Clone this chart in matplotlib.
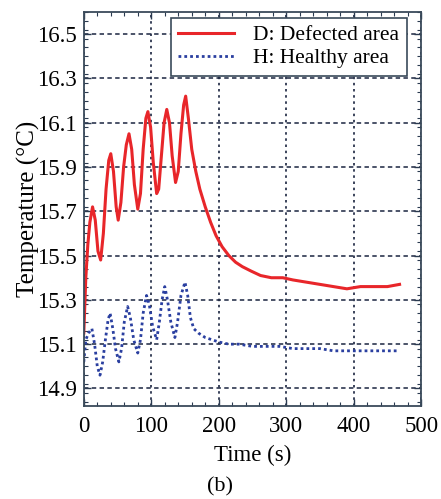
import numpy as np
import matplotlib.pyplot as plt
from matplotlib.ticker import MultipleLocator

# defected area (red)
t_def = [0, 3, 6, 9, 13, 17, 21, 25, 29, 33, 37, 40, 44, 48, 51, 55, 59, 63, 67, 71,
         75, 80, 84, 88, 92, 95, 99, 103, 108, 111, 115, 119, 123, 127, 131, 136, 140,
         144, 148, 151, 155, 160, 166, 172, 180, 188, 196, 205, 215, 225, 235, 248,
         262, 278, 295, 310, 330, 350, 370, 390, 410, 430, 450, 468]
T_def = [15.15, 15.40, 15.55, 15.65, 15.72, 15.66, 15.52, 15.48, 15.60, 15.80, 15.93,
         15.96, 15.88, 15.72, 15.66, 15.74, 15.90, 16.00, 16.05, 15.98, 15.82, 15.71,
         15.78, 15.98, 16.12, 16.15, 16.08, 15.92, 15.78, 15.80, 15.95, 16.10, 16.16,
         16.10, 15.95, 15.83, 15.88, 16.05, 16.18, 16.22, 16.12, 15.98, 15.88, 15.80,
         15.72, 15.65, 15.59, 15.54, 15.50, 15.47, 15.45, 15.43, 15.41, 15.40, 15.40,
         15.39, 15.38, 15.37, 15.36, 15.35, 15.36, 15.36, 15.36, 15.37]

# healthy area (blue)
t_hea = [0, 3, 7, 12, 16, 20, 24, 28, 32, 36, 39, 43, 47, 52, 56, 60, 65, 69, 74, 80,
         84, 88, 93, 97, 102, 108, 112, 116, 120, 124, 129, 135, 139, 144, 150, 154,
         158, 163, 170, 180, 190, 200, 215, 230, 250, 270, 290, 310, 330, 350, 370,
         390, 410, 430, 450, 465]
T_hea = [15.02, 15.12, 15.15, 15.17, 15.10, 15.00, 14.96, 15.02, 15.12, 15.21, 15.24,
         15.17, 15.08, 15.02, 15.08, 15.20, 15.27, 15.22, 15.12, 15.06, 15.12, 15.24,
         15.32, 15.28, 15.18, 15.12, 15.20, 15.30, 15.36, 15.30, 15.20, 15.13, 15.20,
         15.32, 15.38, 15.32, 15.22, 15.17, 15.15, 15.13, 15.12, 15.11, 15.10, 15.10,
         15.09, 15.09, 15.09, 15.08, 15.08, 15.08, 15.07, 15.07, 15.07, 15.07, 15.07,
         15.07]

yticks = [14.9, 15.1, 15.3, 15.5, 15.7, 15.9, 16.1, 16.3, 16.5]
xticks = [0, 100, 200, 300, 400, 500]

plt.rcParams['font.family'] = ['Liberation Serif', 'DejaVu Serif']

fig = plt.figure(figsize=(4.41, 4.99), dpi=100)
ax = fig.add_axes([0.190, 0.186, 0.765, 0.790])

ax.plot(t_def, T_def, color='#e8262a', lw=2.2, label='D: Defected area')
ax.plot(t_hea, T_hea, color='#2a3fa0', lw=2.0, ls=(0, (1, 1.1)), label='H: Healthy area')

ax.set_xlim(0, 500)
ax.set_ylim(14.82, 16.6)
ax.set_xticks(xticks)
ax.set_yticks(yticks)
ax.set_yticklabels([f'{v:.1f}' for v in yticks])
ax.xaxis.set_minor_locator(MultipleLocator(20))
ax.yaxis.set_minor_locator(MultipleLocator(0.04))
ax.tick_params(which='both', direction='in', top=True, right=True, color='#2a3a50',
               labelsize=16.5)
ax.tick_params(which='major', length=5, width=1.0)
ax.tick_params(axis='x', which='major', pad=7)
ax.tick_params(axis='y', which='major', pad=5)
ax.tick_params(which='minor', length=3, width=0.8)
for s in ax.spines.values():
    s.set_color('#3a4a5a')
    s.set_linewidth(1.3)

ax.yaxis.grid(True, color='#1a2440', ls=(0, (2.9, 2.2)), lw=1.1)
ax.xaxis.grid(True, color='#1a2440', ls=(0, (1.5, 2.2)), lw=1.2)

ax.set_xlabel('Time (s)', fontsize=16.5, labelpad=6)
ax.set_ylabel('Temperature (°C)', fontsize=18, labelpad=-2)

leg = ax.legend(loc='upper right', bbox_to_anchor=(0.958, 0.985), borderaxespad=0,
                fontsize=15.5, handlelength=2.6, handletextpad=0.9,
                fancybox=False, framealpha=1, edgecolor='#3a4a5a',
                borderpad=0.35, labelspacing=0.12)
leg.get_frame().set_linewidth(1.2)

fig.text(0.5, 0.015, '(b)', ha='center', fontsize=16)

fig.savefig('out.png', dpi=100)
